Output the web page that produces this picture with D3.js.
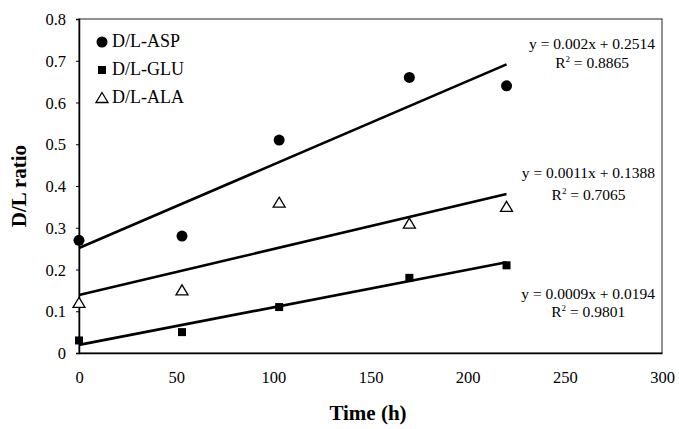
<!DOCTYPE html>
<html>
<head>
<meta charset="utf-8">
<script src="https://cdn.jsdelivr.net/npm/d3@7"></script>
<style>
  body { margin: 0; background: #fff; }
  svg text { font-family: "Liberation Serif", "Times New Roman", serif; fill: #000; }
</style>
</head>
<body>
<div id="chart"></div>
<script>
// Data
const times = [0, 53, 103, 170, 220];
const aspValues = [0.27, 0.28, 0.51, 0.66, 0.64];
const gluValues = [0.03, 0.05, 0.11, 0.18, 0.21];
const alaValues = [0.12, 0.15, 0.36, 0.31, 0.35];

const seriesNames = ["D/L-ASP", "D/L-GLU", "D/L-ALA"];
const slopes = [0.002, 0.0011, 0.0009];
const intercepts = [0.2514, 0.1388, 0.0194];
const eqLabels = ["y = 0.002x + 0.2514", "y = 0.0011x + 0.1388", "y = 0.0009x + 0.0194"];
const r2Labels = ["0.8865", "0.7065", "0.9801"];

const xTicks = [0, 50, 100, 150, 200, 250, 300];
const yTicks = [0, 0.1, 0.2, 0.3, 0.4, 0.5, 0.6, 0.7, 0.8];

const width = 679, height = 429;
const margin = { left: 79, right: 17, top: 19, bottom: 76 };

const svg = d3.select("#chart").append("svg")
  .attr("width", width)
  .attr("height", height);

const x = d3.scaleLinear().domain([0, 300]).range([margin.left, width - margin.right]);
const y = d3.scaleLinear().domain([0, 0.8]).range([height - margin.bottom, margin.top]);

// plot frame
svg.append("rect")
  .attr("x", x(0)).attr("y", y(0.8))
  .attr("width", x(300) - x(0)).attr("height", y(0) - y(0.8))
  .style("fill", "none").style("stroke", "#222").style("stroke-width", 1);

// y axis
const yAxis = svg.append("g")
  .attr("transform", `translate(${x(0)},0)`)
  .attr("font-family", null)
  .call(d3.axisLeft(y).tickValues(yTicks).tickSize(3).tickPadding(10)
    .tickFormat(d => d === 0 ? "0" : d3.format(".1f")(d)));
yAxis.attr("font-family", null).attr("font-size", null);
yAxis.select(".domain").style("stroke", "#000").style("stroke-width", 1.5);
yAxis.selectAll("text").style("font-size", "16.5px").attr("dy", "0.34em");

// x axis
const xAxis = svg.append("g")
  .attr("transform", `translate(0,${y(0)})`)
  .call(d3.axisBottom(x).tickValues(xTicks).tickSize(0).tickPadding(18));
xAxis.attr("font-family", null).attr("font-size", null);
xAxis.select(".domain").style("stroke", "#000").style("stroke-width", 1.5);
xAxis.selectAll("text").style("font-size", "16.5px");

// axis titles
svg.append("text")
  .attr("transform", `translate(26,${(y(0) + y(0.8)) / 2}) rotate(-90)`)
  .attr("text-anchor", "middle")
  .style("font-size", "21px").style("font-weight", "bold")
  .text("D/L ratio");

svg.append("text")
  .attr("x", 368)
  .attr("y", 420)
  .attr("text-anchor", "middle")
  .style("font-size", "21px").style("font-weight", "bold")
  .text("Time (h)");

// trend lines
const allSeries = [aspValues, gluValues, alaValues];
const lastT = d3.max(times);
slopes.forEach((m, i) => {
  svg.append("line")
    .attr("x1", x(0)).attr("y1", y(intercepts[i]))
    .attr("x2", x(lastT)).attr("y2", y(m * lastT + intercepts[i]))
    .style("stroke", "#000").style("stroke-width", 2.6);
});

// markers
function drawMarker(g, kind, cx, cy) {
  if (kind === 0) {
    g.append("circle").attr("cx", cx).attr("cy", cy).attr("r", 5.5).style("fill", "#000");
  } else if (kind === 1) {
    g.append("rect").attr("x", cx - 4).attr("y", cy - 4).attr("width", 8).attr("height", 8).style("fill", "#000");
  } else {
    g.append("path")
      .attr("d", `M${cx},${cy - 5.5}L${cx + 6},${cy + 4.5}L${cx - 6},${cy + 4.5}Z`)
      .style("fill", "#fff").style("stroke", "#000").style("stroke-width", 1.3);
  }
}

const pts = svg.append("g");
allSeries.forEach((vals, i) => {
  vals.forEach((v, j) => drawMarker(pts, i, x(times[j]), y(v)));
});

// legend
const legend = svg.append("g");
seriesNames.forEach((name, i) => {
  const ly = 42 + i * 28;
  drawMarker(legend, i, 102, ly);
  legend.append("text")
    .attr("x", 112).attr("y", ly + 5)
    .style("font-size", "18px")
    .text(name);
});

// equations
const eqY = [49, 178, 299];
const r2Y = [68, 200, 317];
eqLabels.forEach((t, i) => {
  const eq = svg.append("text")
    .attr("x", 655).attr("y", eqY[i])
    .attr("text-anchor", "end")
    .style("font-size", "15.5px")
    .text(t);
  const bb = eq.node().getBBox();
  const r = svg.append("text")
    .attr("x", bb.x + bb.width / 2).attr("y", r2Y[i])
    .attr("text-anchor", "middle")
    .style("font-size", "15.5px");
  r.append("tspan").text("R");
  r.append("tspan").attr("dy", -6).style("font-size", "9px").text("2");
  r.append("tspan").attr("dy", 6).text(" = " + r2Labels[i]);
});
</script>
</body>
</html>
